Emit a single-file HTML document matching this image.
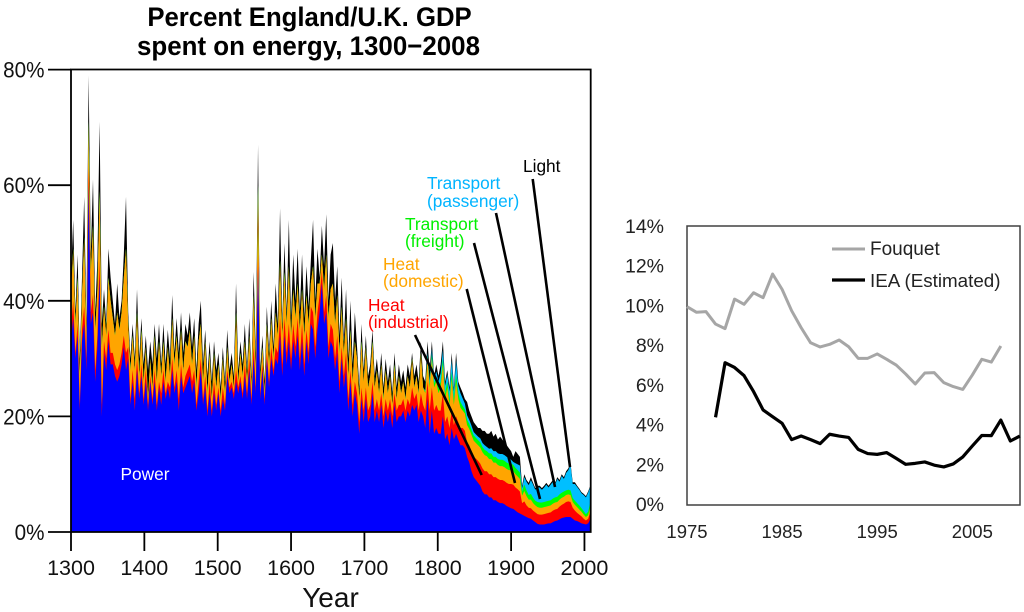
<!DOCTYPE html>
<html lang="en">
<head>
<meta charset="utf-8">
<title>Percent England/U.K. GDP spent on energy</title>
<style>
html,body{margin:0;padding:0;background:#fff;width:1024px;height:612px;overflow:hidden}
svg{display:block}
text{font-family:"Liberation Sans",sans-serif}
</style>
</head>
<body>
<svg id="chart" xmlns="http://www.w3.org/2000/svg" width="1024" height="612" viewBox="0 0 1024 612">
  <text transform="translate(309.5 26) scale(.953 1)" text-anchor="middle" font-size="27" font-weight="700">Percent England/U.K. GDP</text>
  <text transform="translate(308.5 55) scale(.96 1)" text-anchor="middle" font-size="27" font-weight="700">spent on energy, 1300−2008</text>
  <g id="main-layers"></g>
  <g id="main-axes"></g>
  <g font-size="17.3">
    <text x="120.5" y="480" fill="#fff">Power</text>
    <text x="368" y="311" fill="#ff0000">Heat</text>
    <text x="368" y="328" fill="#ff0000">(industrial)</text>
    <text x="383" y="270" fill="#ffa500">Heat</text>
    <text x="383" y="287" fill="#ffa500">(domestic)</text>
    <text x="405" y="230" fill="#00f000">Transport</text>
    <text x="405" y="247" fill="#00f000">(freight)</text>
    <text x="427" y="189" fill="#00b4ff">Transport</text>
    <text x="427" y="207" fill="#00b4ff">(passenger)</text>
    <text x="523" y="172" fill="#000">Light</text>
    <line x1="415" y1="335" x2="481.7" y2="475" stroke="#000" stroke-width="2.6"/>
    <line x1="466.7" y1="289" x2="515" y2="483" stroke="#000" stroke-width="2.6"/>
    <line x1="474" y1="243" x2="540" y2="499" stroke="#000" stroke-width="2.6"/>
    <line x1="496" y1="213" x2="555" y2="487" stroke="#000" stroke-width="2.6"/>
    <line x1="532.7" y1="179" x2="570" y2="467" stroke="#000" stroke-width="2.6"/>
  </g>
  <g id="inset"></g>
</svg>
<script>
/* Main chart: one value per 3-year step, percent of GDP */
const firstYear = 1300;
const yearStep = 3;
const mainYearTicks = [1300,1400,1500,1600,1700,1800,1900,2000];
const mainPercentTicks = [0,20,40,60,80];

const power = [
33,37,30,34,21,33,36,28,60,36,
38,26,32,44,20,31,28,33,29,29,
27,26,27,29,32,28,30,22,26,21,
28,23,27,22,26,21,26,22,26,21,
25,22,26,23,25,23,28,24,26,21,
27,24,25,26,27,24,26,21,24,28,
22,25,20,24,20,24,21,24,20,23,
21,27,24,25,23,26,24,26,23,27,
23,28,22,30,24,46,23,28,22,30,
25,30,27,30,29,34,27,34,29,33,
28,33,30,34,28,33,27,33,29,36,
35,30,35,38,43,36,38,30,33,32,
28,31,24,30,25,28,21,26,20,24,
22,17,23,19,23,19,20,24,19,21,
19,22,18,21,19,21,18,22,19,20,
20,21,19,21,20,22,21,22,19,21,
20,18,23,17,21,17,18,17,17,20,
16,17,15,18,16,17,16,15,15,14.5,
13,12,10.5,9.5,9,8.5,8,7,6.5,6.5,
6,6,5.5,5.5,5.2,5,5,4.8,4.5,4.3,
4.1,4,3.7,3.4,3.2,3,2.8,2.6,2.4,2.3,
2,1.7,1.4,1.3,1.3,1.3,1.4,1.5,1.5,1.7,
1.9,2,2.2,2.4,2.5,2.6,2.6,2.6,2.3,2,
1.9,1.7,1.5,1.4,1.3,1.5,2.2];

const heatIndustrial = [
2,3,1,2,1,2,3,2,3,2,
3,2,2,3,2,2,2,2,2,2,
2,2,2,2,2,3,2,1,2,2,
2,1,2,1,2,1,1,1,2,1,
1,2,2,1,1,2,2,1,2,2,
2,1,2,2,2,2,2,1,2,2,
1,2,1,2,1,2,1,1,1,2,
1,1,1,1,1,2,1,1,1,2,
1,2,1,2,1,2,1,1,1,1,
1,2,1,2,2,3,2,3,2,3,
2,3,2,3,2,3,2,2,2,3,
3,2,3,3,2,2,3,2,3,3,
2,3,2,2,2,3,2,2,2,2,
2,2,2,2,2,2,2,2,2,2,
2,2,2,2,2,2,2,2,2,2,
2,2,2,2,2,3,2,2,2,3,
2,3,3,4,4,4,4,4,4,4,
3,3,3,3,2.5,3,3,3,3,3,
2.5,3,3.5,3.5,3.7,3.8,3.8,4,4,4,
4,4,4,4,4,4,4,4,4,4,
4.2,4.2,4,4,3.8,2,2.5,2,1.8,1.8,
1.7,1.7,1.7,1.7,1.7,1.8,1.8,1.8,1.9,2,
2,2,2.2,2.3,2.4,2.6,2.7,2.6,1.9,1.7,
1.4,1.3,1.2,0.9,0.7,0.8,1.2];

const heatDomestic = [
6,9,5,8,5,6,12,4,8,7,
12,7,8,12,10,6,4,9,9,6,
5,10,6,7,10,18,4,5,6,5,
8,3,6,3,4,1,3,2,6,4,
7,3,5,2,6,2,7,4,6,5,
6,3,6,4,6,3,6,3,7,6,
3,6,3,5,2,5,3,4,2,5,
2,4,1,3,1,10,1,4,3,4,
2,4,2,9,3,12,2,3,1,5,
3,5,2,6,3,10,5,8,5,10,
4,6,5,6,5,6,5,6,5,4,
8,5,5,2,3,4,7,5,6,8,
6,7,5,7,4,6,4,7,4,7,
6,4,8,5,7,4,5,7,4,5,
3,5,3,5,3,4,2,5,2,5,
2,3,2,4,3,5,2,3,3,7,
3,3,4,4,5,4,4,3,4,5,
4,5,4,5.5,3.5,6,4,3.5,3,3,
3,2.8,2.8,2.8,2.7,2.7,2.8,2.8,2.8,2.6,
2.6,2.6,2.5,2.5,2.4,2.4,2.4,2.4,2.4,2.4,
2.4,2.3,2.3,2.2,2.2,1.3,1.8,1.6,1.4,1.5,
1.3,1.2,1.2,1.2,1.2,1.2,1.2,1.2,1.2,1.2,
1.2,1.2,1.2,1.2,1.2,1.2,1.2,1.2,1,1,
1,0.9,0.8,0.7,0.6,0.6,0.9];

const transportFreight = [
0,0,0,0,0,0,0,0,0,0,
0,0,0,0,0,0,0,0,0,0,
0,0,0,0,0,0,0,0,0,0,
0,0,0,0,0,0,0,0,0,0,
0,0,0,0,0,0,0,0,0,0,
0,0,0,0,0,0,0,0,0,0,
0,0,0,0,0,0,0,0,0,0,
0,0,0,0,0,0,0,0,0,0,
0,0,0,0,0,0,0,0,0,0,
0,0,0,0,0,0,0,0,0,0,
0,0,0,0,0,0,0,0,0,0,
0,0,0,0,0,0,0,0,0,0,
0,0,0,0,0,0,0,0,0,0,
0,0,0,0,0,0,0,0,0,0,
0,0,0,0,0,0,0,0,0,0,
0,0,0,0,0,0,0,0,0,0,
0,0.3,0.5,0.5,0.7,0.7,0.8,0.8,1,1,
1,1,0.8,1.2,1,1.2,1,1,0.8,0.7,
0.9,0.9,0.9,0.9,0.9,0.9,0.9,0.9,0.9,0.9,
1,1,1,1,1,1.1,1.1,1.1,1.1,1.1,
1.2,1.1,1.1,1.1,1.1,0.7,1.1,1,0.8,1,
0.9,0.8,0.9,0.9,0.9,0.9,0.9,0.9,0.9,0.9,
0.9,0.9,0.9,0.9,0.9,0.8,0.8,0.8,0.7,0.7,
0.7,0.7,0.6,0.6,0.5,0.6,0.8];

const transportPassenger = [
0,0,0,0,0,0,0,0,0,0,
0,0,0,0,0,0,0,0,0,0,
0,0,0,0,0,0,0,0,0,0,
0,0,0,0,0,0,0,0,0,0,
0,0,0,0,0,0,0,0,0,0,
0,0,0,0,0,0,0,0,0,0,
0,0,0,0,0,0,0,0,0,0,
0,0,0,0,0,0,0,0,0,0,
0,0,0,0,0,0,0,0,0,0,
0,0,0,0,0,0,0,0,0,0,
0,0,0,0,0,0,0,0,0,0,
0,0,0,0,0,0,0,0,0,0,
0,0,0,0,0,0,0,0,0,0,
0,0,0,0,0,0,0,0,0,0,
0,0,0,0,0,0,0,0,0,0,
0,0,0,0,0,0,0,0,0,0,
0,0.2,0.5,0.7,1,0.7,1,1.2,1.5,1.5,
1.3,1.3,1.5,2,1.3,2.5,1.3,1.5,1.3,1,
0.8,0.7,0.7,0.6,0.6,0.6,0.7,0.7,0.8,0.7,
0.8,0.9,1,1,1,1,1,1,1,1,
0.6,0.5,0.8,1,1.2,0.6,1.3,1.5,1.7,2.4,
2.3,1.9,2.5,2.6,2.2,2.5,2.9,2.3,2.7,2.9,
2.2,3.1,2.2,2.9,2.2,3,3.4,4.4,2.4,2.9,
2.8,2.7,2.6,2.8,2.9,3.3,2.7];

const light = [
3,5,2,4,3,3,7,2,8,3,
8,3,5,12,4,3,2,5,4,3,
2,5,2,2,4,9,2,2,2,2,
4,3,2,3,2,5,3,4,2,4,
3,2,3,3,3,3,4,2,3,3,
3,3,3,2,3,3,3,3,3,4,
3,2,3,2,3,2,3,2,2,2,
2,3,2,2,2,5,2,2,2,3,
2,3,2,4,3,7,2,2,2,3,
2,3,2,5,2,9,2,5,2,8,
3,6,3,6,3,6,3,5,3,4,
8,3,6,1,5,4,7,3,6,7,
4,5,3,5,2,5,3,5,3,5,
2,2,3,2,2,2,2,2,2,2,
2,2,2,2,2,2,2,2,2,2,
2,2,2,2,2,1,2,2,2,2,
2,1.5,2,1.8,1.3,0.6,1.2,1,1.5,1.5,
0.7,0.7,0.7,1.3,0.7,1.3,0.7,1,1,0.8,
2.3,1.6,1.6,1.7,1.6,1.5,1.8,2.1,2.5,2.3,
2.6,3,2.5,3,2.4,3,2.5,2.2,2,1.7,
1.5,0.9,2.1,1.8,1.5,0.4,0.5,0.3,0.4,0.5,
0.3,0.3,0.3,0.3,0.3,0.3,0.3,0.3,0.3,0.3,
0.3,0.3,0.3,0.3,0.3,0.3,0.3,0.3,0.3,0.3,
0.2,0.2,0.2,0.2,0.2,0.2,0.2];

/* Inset chart */
const insetPercentTicks = [0,2,4,6,8,10,12,14];
const insetYearTicks = [1975,1985,1995,2005];
const fouquetStartYear = 1975;
const fouquet = [9.95,9.67,9.7,9.08,8.85,10.33,10.07,10.65,10.4,11.59,10.82,9.75,8.9,8.14,7.93,8.06,8.28,7.94,7.36,7.36,7.58,7.31,7.02,6.57,6.07,6.62,6.64,6.14,5.94,5.8,6.52,7.31,7.17,7.98];
const ieaStartYear = 1978;
const iea = [4.4,7.14,6.9,6.49,5.69,4.77,4.43,4.1,3.28,3.46,3.28,3.08,3.55,3.46,3.39,2.79,2.58,2.54,2.63,2.34,2.04,2.09,2.16,2.0,1.91,2.06,2.41,2.96,3.49,3.48,4.26,3.21,3.46];

const NS = 'http://www.w3.org/2000/svg';
function make(tag, parent, attrs) {
  const el = document.createElementNS(NS, tag);
  for (const k in attrs) el.setAttribute(k, attrs[k]);
  parent.appendChild(el);
  return el;
}

/* Main axis functions */
const xMain = year => 71 + (year - 1300) * 0.7335;
const yMain = pct => 532 - pct * 5.78;

/* Stacked areas: painted top layer first, each reaching the baseline */
const layerGroup = document.getElementById('main-layers');
const layers = [
  {values: power, color: '#0000ff', name: 'power-area'},
  {values: heatIndustrial, color: '#ff0000', name: 'heat-industrial-area'},
  {values: heatDomestic, color: '#ffa500', name: 'heat-domestic-area'},
  {values: transportFreight, color: '#00ff00', name: 'transport-freight-area'},
  {values: transportPassenger, color: '#00bfff', name: 'transport-passenger-area'},
  {values: light, color: '#000000', name: 'light-area'}
];
const count = power.length;
const cumulative = [];
let running = power.map(() => 0);
layers.forEach(layer => {
  running = running.map((v, i) => v + (layer.values[i] || 0));
  cumulative.push(running);
});
for (let l = layers.length - 1; l >= 0; l--) {
  let d = 'M' + xMain(firstYear).toFixed(2) + ' ' + yMain(0);
  for (let i = 0; i < count; i++) {
    d += 'L' + xMain(firstYear + i * yearStep).toFixed(2) + ' ' + yMain(cumulative[l][i]).toFixed(2);
  }
  d += 'L' + xMain(firstYear + (count - 1) * yearStep).toFixed(2) + ' ' + yMain(0) + 'Z';
  const area = make('path', layerGroup, {d: d, fill: layers[l].color});
  
  
}

/* Main axes */
const axes = document.getElementById('main-axes');
const frame = make('path', axes, {d: 'M71 69.5H590.7V532H71Z', fill: 'none', stroke: '#000', 'stroke-width': 1.8});


mainPercentTicks.forEach(p => {
  const y = yMain(p);
  const tick = make('line', axes, {x1: 48, x2: 71, y1: y, y2: y, stroke: '#000', 'stroke-width': 1.8});
  
  
  const label = make('text', axes, {transform: 'translate(44.5 ' + (y + 8) + ') scale(.94 1)', 'text-anchor': 'end', 'font-size': 22, fill: '#111'});
  label.textContent = p + '%';
  
  
});
mainYearTicks.forEach(year => {
  const x = xMain(year);
  const tick = make('line', axes, {x1: x, x2: x, y1: 532, y2: 551, stroke: '#000', 'stroke-width': 1.8});
  
  
  const label = make('text', axes, {x: x, y: 575, 'text-anchor': 'middle', 'font-size': 21.5, fill: '#111'});
  label.textContent = year;
  
  
});
const xTitle = make('text', axes, {x: 330.5, y: 607, 'text-anchor': 'middle', 'font-size': 28, fill: '#111'});
xTitle.textContent = 'Year';



/* Inset axis functions */
const xInset = year => 687 + (year - 1975) * 9.51;
const yInset = pct => 505 - pct * 19.93;
const inset = document.getElementById('inset');
const box = make('rect', inset, {x: 687, y: 226, width: 333, height: 279, fill: 'none', stroke: '#404040', 'stroke-width': 1.5});


insetPercentTicks.forEach(p => {
  const label = make('text', inset, {x: 664, y: yInset(p) + 6 + p * 0.06, 'text-anchor': 'end', 'font-size': 19.5, fill: '#222'});
  label.textContent = p + '%';
  
  
});
insetYearTicks.forEach(year => {
  const label = make('text', inset, {x: xInset(year), y: 538, 'text-anchor': 'middle', 'font-size': 18.5, fill: '#222'});
  label.textContent = year;
  
  
});
function linePath(values, startYear) {
  return values.map((v, i) => (i ? 'L' : 'M') + xInset(startYear + i).toFixed(2) + ' ' + yInset(v).toFixed(2)).join('');
}
const fouquetLine = make('path', inset, {d: linePath(fouquet, fouquetStartYear), fill: 'none', stroke: '#a6a6a6', 'stroke-width': 3, 'stroke-linejoin': 'round'});


const ieaLine = make('path', inset, {d: linePath(iea, ieaStartYear), fill: 'none', stroke: '#000', 'stroke-width': 3.2, 'stroke-linejoin': 'round'});



const fouquetKey = make('line', inset, {x1: 832, x2: 865, y1: 249, y2: 249, stroke: '#a6a6a6', 'stroke-width': 3});


const fouquetText = make('text', inset, {x: 870, y: 255, 'font-size': 19, fill: '#222'});
fouquetText.textContent = 'Fouquet';


const ieaKey = make('line', inset, {x1: 832, x2: 865, y1: 280, y2: 280, stroke: '#000', 'stroke-width': 3.2});


const ieaText = make('text', inset, {x: 870, y: 287, 'font-size': 18.8, fill: '#222'});
ieaText.textContent = 'IEA (Estimated)';


</script>
</body>
</html>
